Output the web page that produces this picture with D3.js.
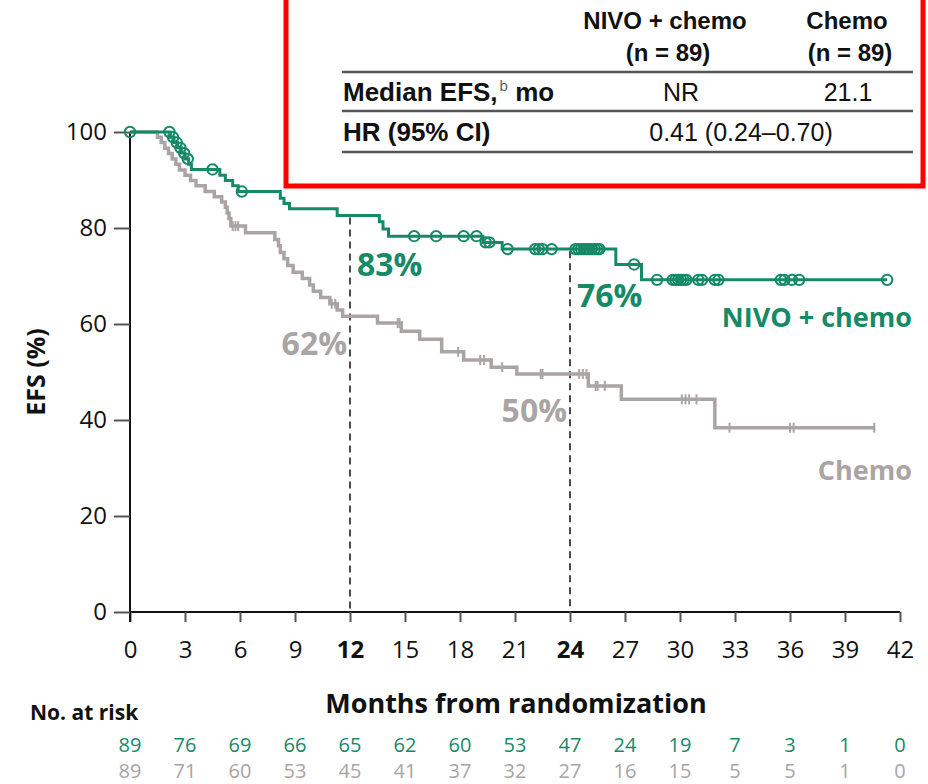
<!DOCTYPE html>
<html>
<head>
<meta charset="utf-8">
<script src="https://cdn.jsdelivr.net/npm/d3@7/dist/d3.min.js"></script>
<style>
  body { margin: 0; background: #fff; }
  svg { display: block; }
</style>
</head>
<body>
<svg id="chart" width="928" height="784"></svg>
<script>
// ---- Data -------------------------------------------------------------
const monthTicks = [0, 3, 6, 9, 12, 15, 18, 21, 24, 27, 30, 33, 36, 39, 42];
const boldTicks = [12, 24];
const yTicks = [0, 20, 40, 60, 80, 100];

// Kaplan-Meier steps: [month, EFS % after the step]
const nivoSteps = [
  [0, 100], [2.2, 98.9], [2.4, 97.8], [2.6, 96.7], [2.8, 95.6], [3.0, 94.4],
  [3.2, 93.3], [3.35, 92.2], [4.9, 91.0], [5.2, 89.9], [5.6, 88.8], [5.9, 87.6],
  [8.2, 86.2], [8.4, 85.1], [8.7, 84.0], [11.3, 82.6], [13.6, 81.3],
  [13.8, 79.8], [14.1, 78.3], [19.25, 77.0], [20.3, 75.6], [26.5, 72.4],
  [27.9, 69.2]
];
const nivoEnd = 41.3;
const nivoCensored = [
  0, 2.15, 2.35, 2.55, 2.75, 2.95, 3.15, 4.5, 6.1, 15.5, 16.7, 18.2, 18.9,
  19.4, 19.6, 20.6, 22.1, 22.3, 22.5, 23.0, 24.3, 24.45, 24.6, 24.75, 24.9,
  25.05, 25.2, 25.35, 25.5, 25.6, 27.5, 28.75, 29.6, 29.75, 29.9, 30.05, 30.2,
  30.35, 31.0, 31.2, 31.9, 32.1, 35.5, 35.7, 36.1, 36.5, 41.3
];

const chemoSteps = [
  [0, 100], [1.5, 98.9], [1.7, 97.8], [1.9, 96.6], [2.1, 95.5], [2.3, 94.4],
  [2.5, 93.3], [2.7, 92.1], [3.0, 91.0], [3.3, 89.9], [3.6, 88.8], [4.1, 87.6],
  [4.6, 86.5], [5.0, 85.4], [5.2, 84.3], [5.3, 83.1], [5.4, 82.0], [5.5, 80.4],
  [6.3, 79.0], [7.9, 77.6], [8.1, 76.3], [8.2, 74.9], [8.4, 73.6], [8.6, 72.2],
  [8.9, 70.8], [9.4, 69.5], [9.8, 68.1], [10.0, 66.8], [10.4, 65.5],
  [10.9, 64.2], [11.3, 62.9], [11.6, 61.6], [13.5, 60.2], [14.8, 58.5],
  [15.8, 56.8], [17.0, 54.2], [18.2, 52.5], [19.7, 51.0], [21.1, 49.6],
  [25.0, 47.1], [26.8, 44.3], [31.9, 38.4]
];
const chemoEnd = 40.6;
const chemoCensored = [
  5.6, 5.75, 5.9, 11.0, 11.2, 14.6, 14.7, 17.9, 19.1, 19.3, 20.3, 22.4, 22.5,
  24.5, 24.7, 24.9, 25.4, 25.5, 25.9, 30.1, 30.3, 30.5, 30.9, 32.7, 36.0,
  36.2, 40.6
];

// Landmark estimates at 12 and 24 months
const landmarkMonths = [12, 24];
const nivoLandmarks = [83, 76];
const chemoLandmarks = [62, 50];

// Numbers at risk under each month tick
const riskNivo = [89, 76, 69, 66, 65, 62, 60, 53, 47, 24, 19, 7, 3, 1, 0];
const riskChemo = [89, 71, 60, 53, 45, 41, 37, 32, 27, 16, 15, 5, 5, 1, 0];

// Summary table
const tableColumns = ["NIVO + chemo", "Chemo"];
const tableN = ["(n = 89)", "(n = 89)"];
const medianEFS = ["NR", "21.1"];
const hazardRatio = "0.41 (0.24\u20130.70)";

// ---- Styles -----------------------------------------------------------
const GREEN = "#168a67";
const GRAY = "#aaa4a4";
const FONT = "'Open Sans', 'Noto Sans', sans-serif";
const TABLE_FONT = "'Liberation Sans', Arial, sans-serif";

const svg = d3.select("#chart");

const x = d3.scaleLinear().domain([0, 42]).range([130, 900]);
const y = d3.scaleLinear().domain([0, 100]).range([612, 132]);

function survAt(steps, t) {
  let s = steps[0][1];
  for (const [st, v] of steps) { if (st <= t + 1e-9) s = v; else break; }
  return s;
}

// ---- Axes -------------------------------------------------------------
const xAxis = d3.axisBottom(x).tickValues(monthTicks).tickSize(10).tickPadding(19)
  .tickFormat(d3.format("d"));
const gx = svg.append("g").attr("transform", `translate(0,${y(0)})`).call(xAxis);
gx.select(".domain").attr("stroke", "#111").attr("stroke-width", 2)
  .attr("d", `M${x(0)},0H${x(42)}`);
gx.selectAll(".tick line").attr("stroke", "#555").attr("stroke-width", 2);
gx.selectAll(".tick text")
  .attr("font-family", FONT).attr("font-size", 24).attr("fill", "#111")
  .attr("font-weight", d => boldTicks.includes(d) ? 700 : 400);

const yAxis = d3.axisLeft(y).tickValues(yTicks).tickSize(16).tickPadding(7);
const gy = svg.append("g").attr("transform", `translate(${x(0)},0)`).call(yAxis);
gy.select(".domain").attr("stroke", "#111").attr("stroke-width", 2)
  .attr("d", `M0,${y(100)}V${y(0) + 10}`);
gy.selectAll(".tick line").attr("stroke", "#555").attr("stroke-width", 2);
gy.selectAll(".tick text")
  .attr("font-family", FONT).attr("font-size", 24).attr("fill", "#111");

svg.append("text")
  .attr("transform", `translate(45,${(y(0) + y(100)) / 2}) rotate(-90)`)
  .attr("text-anchor", "middle")
  .attr("font-family", FONT).attr("font-weight", 700).attr("font-size", 25)
  .attr("fill", "#111").text("EFS (%)");

svg.append("text")
  .attr("x", 516).attr("y", 713)
  .attr("text-anchor", "middle")
  .attr("font-family", FONT).attr("font-weight", 700).attr("font-size", 27)
  .attr("fill", "#111").text("Months from randomization");

// ---- Landmark guides --------------------------------------------------
landmarkMonths.forEach((m, i) => {
  svg.append("line")
    .attr("x1", x(m)).attr("x2", x(m))
    .attr("y1", y(nivoLandmarks[i]) + 4).attr("y2", y(0))
    .attr("stroke", "#4a4a4a").attr("stroke-width", 2)
    .attr("stroke-dasharray", "7,5");
});

// ---- Curves -----------------------------------------------------------
const stepLine = d3.line().x(d => x(d[0])).y(d => y(d[1])).curve(d3.curveStepAfter);

function drawCurve(steps, end, color, width) {
  const pts = steps.concat([[end, steps[steps.length - 1][1]]]);
  svg.append("path").datum(pts)
    .attr("d", stepLine)
    .attr("fill", "none").attr("stroke", color)
    .attr("stroke-width", width).attr("stroke-linejoin", "miter");
}

drawCurve(chemoSteps, chemoEnd, GRAY, 3.5);
drawCurve(nivoSteps, nivoEnd, GREEN, 3);

// Censor marks: ticks for chemo, open circles for NIVO + chemo
svg.append("g").selectAll("line").data(chemoCensored).join("line")
  .attr("x1", d => x(d)).attr("x2", d => x(d))
  .attr("y1", d => y(survAt(chemoSteps, d)) - 5)
  .attr("y2", d => y(survAt(chemoSteps, d)) + 5)
  .attr("stroke", GRAY).attr("stroke-width", 2);

svg.append("g").selectAll("circle").data(nivoCensored).join("circle")
  .attr("cx", d => x(d)).attr("cy", d => y(survAt(nivoSteps, d)))
  .attr("r", 5.2)
  .attr("fill", "none").attr("stroke", GREEN).attr("stroke-width", 2);

// ---- Landmark labels --------------------------------------------------
function pctLabel(text, px, py, anchor, color) {
  svg.append("text").attr("x", px).attr("y", py)
    .attr("text-anchor", anchor).attr("fill", color)
    .attr("font-family", FONT).attr("font-weight", 700).attr("font-size", 32)
    .text(text);
}
pctLabel(`${nivoLandmarks[0]}%`, x(12) + 7, 276, "start", GREEN);
pctLabel(`${nivoLandmarks[1]}%`, x(24) + 7, 307, "start", GREEN);
pctLabel(`${chemoLandmarks[0]}%`, x(12) - 3, 355, "end", GRAY);
pctLabel(`${chemoLandmarks[1]}%`, x(24) - 3, 422, "end", GRAY);

// Series names
svg.append("text").attr("x", 912).attr("y", 327).attr("text-anchor", "end")
  .attr("font-family", FONT).attr("font-weight", 700).attr("font-size", 27)
  .attr("fill", GREEN).text("NIVO + chemo");
svg.append("text").attr("x", 912).attr("y", 480).attr("text-anchor", "end")
  .attr("font-family", FONT).attr("font-weight", 700).attr("font-size", 27)
  .attr("fill", GRAY).text("Chemo");

// ---- Numbers at risk --------------------------------------------------
svg.append("text").attr("x", 30).attr("y", 720)
  .attr("font-family", FONT).attr("font-weight", 700).attr("font-size", 21)
  .attr("fill", "#111").text("No. at risk");

[[riskNivo, GREEN, 752], [riskChemo, GRAY, 778]].forEach(([vals, color, yy]) => {
  svg.append("g").selectAll("text").data(vals).join("text")
    .attr("x", (d, i) => x(monthTicks[i])).attr("y", yy)
    .attr("text-anchor", "middle")
    .attr("font-family", FONT).attr("font-size", 20).attr("fill", color)
    .text(d => d);
});

// ---- Summary table ----------------------------------------------------
svg.append("rect").attr("x", 286).attr("y", -10).attr("width", 637).attr("height", 196)
  .attr("fill", "#fff").attr("stroke", "#ff0000").attr("stroke-width", 5);

const colX = [665, 847];
tableColumns.forEach((c, i) => {
  svg.append("text").attr("x", colX[i]).attr("y", 29).attr("text-anchor", "middle")
    .attr("font-family", TABLE_FONT).attr("font-weight", 700).attr("font-size", 24)
    .attr("fill", "#111").text(c);
  svg.append("text").attr("x", colX[i] + 3).attr("y", 61).attr("text-anchor", "middle")
    .attr("font-family", TABLE_FONT).attr("font-weight", 700).attr("font-size", 24)
    .attr("fill", "#111").text(tableN[i]);
});

[72, 111, 152].forEach(ly => {
  svg.append("line").attr("x1", 342).attr("x2", 913).attr("y1", ly).attr("y2", ly)
    .attr("stroke", "#555").attr("stroke-width", 2.5);
});

const medianRow = svg.append("text").attr("x", 343).attr("y", 101)
  .attr("font-family", TABLE_FONT).attr("font-weight", 700).attr("font-size", 26)
  .attr("fill", "#111");
medianRow.append("tspan").text("Median EFS,");
medianRow.append("tspan").attr("font-size", 15).attr("font-weight", 400)
  .attr("fill", "#666").attr("dy", -10).attr("dx", 2).text("b");
medianRow.append("tspan").attr("dy", 10).text(" mo");

medianEFS.forEach((v, i) => {
  svg.append("text").attr("x", i === 0 ? 681 : 848).attr("y", 101)
    .attr("text-anchor", "middle")
    .attr("font-family", TABLE_FONT).attr("font-size", 25).attr("fill", "#111").text(v);
});

svg.append("text").attr("x", 343).attr("y", 141)
  .attr("font-family", TABLE_FONT).attr("font-weight", 700).attr("font-size", 26)
  .attr("fill", "#111").text("HR (95% CI)");
svg.append("text").attr("x", 741).attr("y", 141).attr("text-anchor", "middle")
  .attr("font-family", TABLE_FONT).attr("font-size", 25).attr("fill", "#111")
  .text(hazardRatio);
</script>
</body>
</html>
